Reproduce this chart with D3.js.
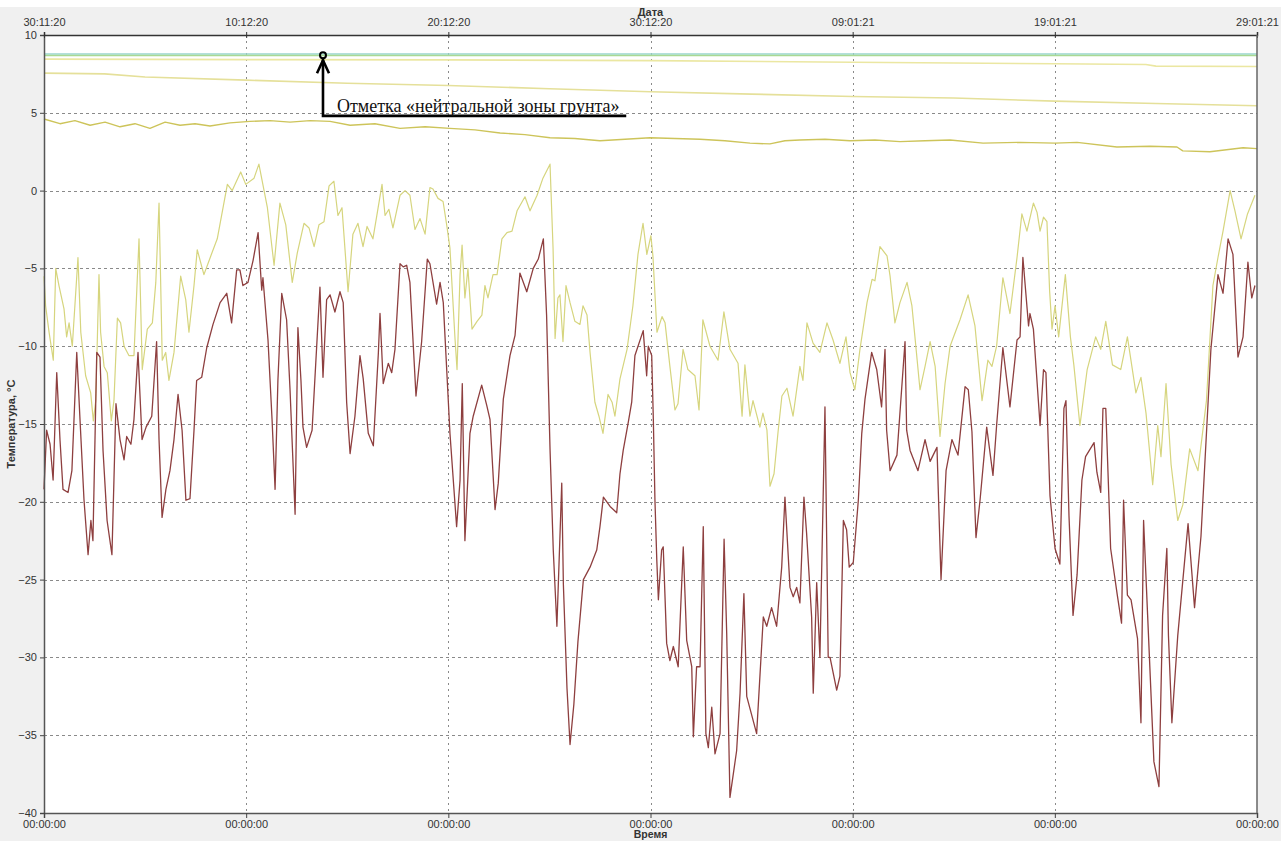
<!DOCTYPE html>
<html>
<head>
<meta charset="utf-8">
<script src="https://cdn.jsdelivr.net/npm/d3@7"></script>
<style>
  html, body { margin: 0; padding: 0; background: #ffffff; }
  svg { display: block; }
</style>
</head>
<body>
<div id="chart"></div>
<script>
// Day offsets are counted from 30.11.2020 00:00
const dateTickDays = [0, 10, 20, 30, 40, 50, 60];
const dateTickLabels = ["30:11:20", "10:12:20", "20:12:20", "30:12:20", "09:01:21", "19:01:21", "29:01:21"];
const timeTickLabels = ["00:00:00", "00:00:00", "00:00:00", "00:00:00", "00:00:00", "00:00:00", "00:00:00"];
const tempTicks = [10, 5, 0, -5, -10, -15, -20, -25, -30, -35, -40];

// Air temperature (dark red)
const airDays = [0.00,0.13,0.30,0.45,0.63,0.79,0.94,1.19,1.38,1.62,1.78,1.98,2.18,2.32,2.42,2.61,2.77,2.92,3.12,3.36,3.46,3.56,3.76,3.96,4.09,4.30,4.45,4.65,4.85,5.05,5.33,5.57,5.69,5.84,6.03,6.23,6.43,6.63,6.83,7.02,7.22,7.42,7.55,7.80,8.05,8.36,8.71,9.04,9.28,9.53,9.69,9.84,10.09,10.34,10.59,10.77,10.83,11.08,11.28,11.43,11.57,11.76,12.00,12.17,12.42,12.56,12.71,12.81,12.99,13.26,13.45,13.65,13.80,13.98,14.15,14.39,14.64,14.80,14.97,15.14,15.38,15.63,15.79,16.04,16.29,16.54,16.62,16.78,17.03,17.20,17.36,17.61,17.77,17.94,18.10,18.40,18.68,18.96,19.09,19.42,19.59,19.75,20.08,20.41,20.58,20.69,20.82,21.07,21.23,21.65,21.90,22.06,22.31,22.47,22.72,23.05,23.30,23.54,23.88,24.20,24.45,24.70,24.86,25.03,25.19,25.37,25.61,25.69,25.87,26.02,26.21,26.41,26.68,27.01,27.34,27.50,27.67,28.00,28.33,28.49,28.65,28.90,29.07,29.23,29.64,29.81,29.89,30.06,30.14,30.22,30.31,30.39,30.55,30.63,30.80,30.96,31.13,31.37,31.62,31.79,32.04,32.12,32.28,32.45,32.61,32.74,32.86,33.03,33.19,33.44,33.64,33.77,33.93,34.26,34.43,34.62,34.76,35.25,35.58,35.75,35.99,36.24,36.49,36.65,36.90,37.06,37.23,37.39,37.59,37.72,37.97,38.05,38.22,38.38,38.63,38.79,38.88,39.21,39.37,39.54,39.70,39.83,40.03,40.28,40.45,40.61,40.94,41.19,41.43,41.60,41.68,41.85,42.19,42.59,42.67,42.84,43.23,43.58,43.83,44.17,44.37,44.62,44.91,45.21,45.56,45.72,45.90,46.10,46.30,46.63,46.94,47.12,47.43,47.78,48.13,48.28,48.42,48.70,48.77,48.94,49.27,49.44,49.56,49.76,50.01,50.25,50.45,50.55,50.70,50.90,51.10,51.34,51.52,51.94,52.08,52.27,52.38,52.52,52.76,53.09,53.30,53.40,53.59,53.77,54.09,54.26,54.39,54.59,54.90,55.15,55.33,55.54,55.62,55.79,56.08,56.59,56.91,57.23,57.72,58.07,58.32,58.57,58.81,59.06,59.31,59.55,59.74,59.90];
const airTemp = [-19.2,-15.4,-16.3,-18.6,-11.7,-16.0,-19.2,-19.4,-18.0,-10.4,-14.7,-19.9,-23.4,-21.2,-22.5,-10.4,-10.7,-16.7,-21.2,-23.4,-18.6,-13.7,-16.0,-17.3,-15.8,-16.3,-14.7,-10.4,-16.0,-15.2,-14.5,-9.7,-16.0,-21.0,-19.2,-18.0,-16.0,-13.1,-15.4,-19.9,-19.8,-15.4,-12.2,-12.0,-10.1,-8.6,-7.2,-6.6,-8.5,-5.1,-5.1,-6.1,-5.9,-4.5,-2.7,-6.4,-5.6,-9.6,-14.7,-19.2,-12.2,-6.6,-8.3,-12.8,-20.8,-8.8,-12.2,-15.2,-16.5,-15.4,-10.9,-6.2,-12.0,-7.0,-6.7,-7.8,-6.5,-7.2,-13.6,-16.9,-14.5,-10.6,-12.1,-15.6,-16.4,-10.4,-7.9,-12.4,-11.1,-11.7,-10.2,-4.7,-4.9,-4.8,-5.9,-13.2,-9.7,-4.4,-4.7,-7.3,-5.9,-7.2,-15.6,-21.6,-18.6,-12.4,-22.5,-15.6,-14.5,-12.5,-13.8,-14.7,-20.5,-18.8,-13.4,-10.6,-9.3,-5.3,-6.5,-5.0,-4.4,-3.1,-8.0,-16.6,-23.1,-28.0,-18.8,-25.3,-32.0,-35.6,-33.0,-29.0,-25.0,-24.2,-23.1,-21.6,-19.7,-20.3,-20.7,-18.2,-16.7,-14.9,-13.6,-10.6,-9.0,-11.9,-10.0,-10.6,-14.7,-19.9,-23.7,-26.3,-23.1,-22.9,-29.1,-30.2,-29.3,-30.6,-22.9,-28.9,-30.6,-35.1,-30.6,-30.6,-21.6,-34.9,-35.8,-33.2,-36.2,-34.9,-22.4,-28.5,-39.0,-36.0,-32.3,-25.9,-32.5,-34.9,-27.4,-28.0,-26.8,-28.0,-24.2,-19.7,-25.5,-26.1,-25.5,-26.5,-19.7,-22.0,-27.4,-32.3,-25.2,-30.0,-13.9,-30.0,-30.0,-32.1,-31.2,-21.2,-21.8,-24.2,-23.9,-19.9,-15.6,-13.4,-10.4,-11.5,-13.9,-10.2,-15.4,-18.0,-17.0,-9.7,-15.4,-16.7,-18.0,-16.0,-17.4,-16.5,-25.0,-18.0,-16.0,-17.0,-12.6,-12.8,-15.5,-22.3,-19.9,-15.2,-18.3,-15.1,-10.1,-13.9,-9.6,-9.4,-4.3,-8.7,-7.9,-8.9,-15.1,-11.5,-11.7,-19.6,-23.0,-24.0,-14.0,-13.5,-20.9,-27.3,-24.7,-18.6,-17.1,-16.2,-18.1,-19.4,-14.0,-14.0,-23.0,-26.0,-27.8,-19.9,-26.0,-26.3,-28.8,-34.2,-21.2,-27.3,-36.7,-38.3,-27.3,-23.0,-28.6,-34.2,-28.6,-21.4,-26.8,-22.2,-10.2,-5.4,-6.6,-3.1,-4.1,-10.7,-9.4,-4.6,-6.9,-6.1];

// Snow / surface layer temperature (pale yellow)
const surfaceDays = [0.00,0.08,0.25,0.46,0.58,0.74,0.99,1.12,1.24,1.40,1.68,1.82,2.06,2.31,2.44,2.56,2.72,2.80,2.97,3.13,3.33,3.46,3.63,3.79,3.96,4.20,4.45,4.70,4.86,5.11,5.36,5.53,5.69,5.85,6.02,6.18,6.43,6.76,7.01,7.17,7.42,7.58,7.91,8.25,8.57,9.07,9.31,9.73,9.98,10.39,10.63,11.05,11.38,11.67,11.96,12.28,12.53,12.86,13.11,13.36,13.60,13.85,14.10,14.34,14.54,14.74,15.04,15.28,15.53,15.78,15.98,16.27,16.72,16.87,17.06,17.26,17.61,17.86,18.10,18.35,18.60,18.85,19.09,19.24,19.49,19.74,19.93,20.08,20.33,20.43,20.58,20.68,20.82,20.97,21.17,21.42,21.66,21.81,21.96,22.21,22.41,22.65,22.90,23.15,23.40,23.79,24.04,24.39,24.68,25.03,25.18,25.28,25.42,25.52,25.67,25.82,26.02,26.26,26.51,26.66,26.86,27.01,27.25,27.45,27.65,27.90,28.10,28.24,28.49,28.84,29.13,29.38,29.63,29.82,30.02,30.12,30.32,30.57,30.72,30.96,31.21,31.36,31.61,31.85,32.20,32.40,32.59,32.94,33.34,33.63,33.93,34.33,34.53,34.67,34.92,35.07,35.41,35.56,35.76,35.91,36.11,36.31,36.50,36.75,37.05,37.39,37.54,37.74,38.04,38.38,38.73,39.03,39.37,39.67,39.87,40.11,40.36,40.71,40.96,41.10,41.35,41.70,41.85,42.09,42.34,42.69,42.93,43.08,43.33,43.58,43.83,44.08,44.32,44.57,44.82,44.96,45.31,45.71,46.05,46.40,46.69,46.89,47.12,47.43,47.78,48.13,48.37,48.62,48.94,49.12,49.27,49.44,49.61,49.74,49.86,50.01,50.19,50.52,50.77,50.94,51.24,51.60,52.02,52.27,52.52,52.85,53.26,53.59,54.01,54.26,54.51,54.84,55.09,55.25,55.50,55.75,56.08,56.33,56.67,57.08,57.50,57.82,58.07,58.32,58.67,58.91,59.21,59.53,59.90];
const surfaceTemp = [-5.5,-7.4,-9.1,-10.9,-5.0,-6.1,-7.6,-9.4,-8.5,-10.0,-4.3,-9.1,-11.9,-13.0,-14.8,-13.5,-5.4,-9.1,-11.3,-11.7,-14.8,-13.5,-8.2,-8.5,-10.0,-10.6,-10.6,-3.1,-11.5,-8.9,-8.5,-5.9,-0.8,-10.9,-10.4,-12.2,-10.4,-5.5,-7.0,-9.1,-6.1,-3.8,-5.4,-4.2,-3.1,0.4,0.0,1.2,0.4,0.8,1.7,-1.1,-4.8,-0.8,-2.2,-5.9,-4.0,-2.1,-2.4,-3.6,-2.2,-2.0,0.3,0.6,-1.6,-1.1,-6.5,-2.8,-2.1,-3.6,-2.3,-3.1,0.4,-1.6,-1.2,-2.4,-0.3,0.0,-0.3,-2.5,-1.8,-2.8,0.2,0.1,-0.5,-0.7,-2.3,-3.7,-9.5,-11.5,-5.4,-3.5,-6.9,-5.0,-8.9,-8.4,-8.0,-6.1,-6.9,-5.4,-5.4,-3.1,-2.7,-2.6,-1.3,-0.4,-1.3,-0.3,0.8,1.7,-3.7,-9.5,-6.9,-6.7,-9.7,-6.1,-7.2,-8.4,-8.6,-7.4,-8.0,-10.4,-13.6,-14.5,-15.6,-13.1,-13.6,-14.5,-12.1,-10.2,-7.4,-4.1,-2.1,-4.1,-2.9,-4.2,-9.1,-8.1,-8.5,-11.3,-14.1,-13.7,-10.2,-11.5,-11.9,-14.1,-8.3,-10.0,-10.9,-7.8,-10.2,-11.1,-14.5,-11.2,-14.5,-13.5,-15.2,-14.3,-15.4,-19.0,-18.2,-15.5,-13.2,-12.7,-14.5,-11.3,-12.2,-8.5,-9.8,-10.4,-8.5,-9.6,-11.1,-9.4,-11.7,-12.8,-10.2,-7.2,-5.7,-5.8,-3.6,-4.2,-5.5,-8.5,-7.2,-5.9,-7.4,-9.4,-12.8,-11.3,-9.7,-11.3,-15.8,-12.4,-10.0,-9.5,-8.3,-6.7,-8.7,-13.5,-10.9,-11.3,-10.0,-5.6,-7.9,-4.3,-1.5,-2.6,-0.8,-1.4,-2.6,-1.7,-2.0,-6.4,-8.9,-7.4,-9.4,-5.4,-9.4,-11.2,-15.1,-11.5,-9.4,-10.2,-8.4,-11.2,-11.5,-9.4,-13.0,-12.0,-14.3,-18.9,-15.1,-17.1,-12.4,-17.6,-21.2,-20.2,-16.6,-18.0,-13.5,-6.1,-4.3,-2.6,0.0,-1.3,-3.1,-1.5,-0.3];

// Ground temperature at shallow depth (olive)
const shallowDays = [0,0.79,1.53,2.28,3.02,3.76,4.50,5.24,5.99,6.73,7.47,8.21,9.20,10.19,11.18,12.17,13.16,14.15,15.14,16.37,17.61,18.85,20.08,21.32,22.56,23.79,25.03,26.26,27.50,28.74,29.98,31.21,32.45,33.68,34.92,35.91,36.65,37.39,38.63,39.87,41.10,42.34,43.58,44.82,46.45,48.28,50.01,51.10,53.07,54.71,56.04,56.33,57.67,59.31,60.00];
const shallowTemp = [4.6,4.3,4.5,4.2,4.4,4.1,4.3,4.0,4.4,4.2,4.3,4.15,4.35,4.45,4.5,4.4,4.5,4.45,4.2,4.3,4.0,4.1,4.0,3.9,3.7,3.6,3.4,3.35,3.2,3.3,3.4,3.35,3.3,3.2,3.05,3.0,3.2,3.25,3.3,3.2,3.25,3.15,3.2,3.25,3.05,3.1,3.05,3.1,2.8,2.85,2.8,2.55,2.5,2.75,2.7];

// Ground temperature at medium depth (light yellow)
const mediumDays = [0, 3, 5, 10, 15, 20, 25, 30, 35, 40, 45, 50, 55, 60];
const mediumTemp = [7.55, 7.5, 7.3, 7.1, 6.9, 6.75, 6.55, 6.35, 6.2, 6.05, 5.95, 5.75, 5.6, 5.45];

// Ground temperature at deep level (pale yellow)
const deepDays = [0, 10, 20, 30, 40, 45, 50, 54.5, 55, 60];
const deepTemp = [8.45, 8.42, 8.4, 8.35, 8.25, 8.2, 8.15, 8.1, 8.0, 7.98];

// Neutral zone sensors (constant temperature)
const neutralDays = [0, 60];
const neutralTempA = [8.78, 8.78];
const neutralTempB = [8.68, 8.68];

const W = 1288, H = 841;
const margin = { top: 35, right: 31, bottom: 28, left: 44 };

const svg = d3.select("#chart").append("svg")
  .attr("width", W).attr("height", H);

svg.append("rect").attr("width", W).attr("height", H).attr("fill", "#f0f0f0");

const x = d3.scaleLinear().domain([0, 60]).range([margin.left, W - margin.right]);
const y = d3.scaleLinear().domain([-40, 10]).range([H - margin.bottom, margin.top]);

// plot area
svg.append("rect")
  .attr("x", x(0)).attr("y", y(10))
  .attr("width", x(60) - x(0)).attr("height", y(-40) - y(10))
  .attr("fill", "#ffffff");

// grid
const grid = svg.append("g").attr("stroke", "#8a8a8a").attr("stroke-width", 1)
  .attr("stroke-dasharray", "3,3").attr("shape-rendering", "crispEdges");
grid.selectAll("line.h").data(tempTicks.filter(t => t > -40 && t < 10)).join("line")
  .attr("class", "h")
  .attr("x1", x(0)).attr("x2", x(60))
  .attr("y1", d => Math.round(y(d)) + 0.5).attr("y2", d => Math.round(y(d)) + 0.5);
grid.selectAll("line.v").data(dateTickDays.filter(d => d > 0 && d < 60)).join("line")
  .attr("class", "v")
  .attr("x1", d => Math.round(x(d)) + 0.5).attr("x2", d => Math.round(x(d)) + 0.5)
  .attr("y1", y(10)).attr("y2", y(-40))
  .attr("stroke-dasharray", "2,4");

const line = d3.line().x(d => x(d[0])).y(d => y(d[1]));
const plotLines = svg.append("g").attr("fill", "none").attr("stroke-linejoin", "round");

function drawSeries(days, temps, color, width) {
  plotLines.append("path")
    .datum(d3.zip(days, temps))
    .attr("d", line)
    .attr("stroke", color)
    .attr("stroke-width", width);
}

drawSeries(neutralDays, neutralTempA, "#9ad6cf", 1.4);
drawSeries(neutralDays, neutralTempB, "#a9d993", 1.6);
drawSeries(deepDays, deepTemp, "#ebe7a2", 1.6);
drawSeries(mediumDays, mediumTemp, "#e5e09a", 1.6);
drawSeries(shallowDays, shallowTemp, "#cdc45a", 1.4);
drawSeries(surfaceDays, surfaceTemp, "#d6d57e", 1.2);
drawSeries(airDays, airTemp, "#8e3f3f", 1.3);

// axes
const fontSans = "'Liberation Sans', Arial, sans-serif";

const yAxis = d3.axisLeft(y).tickValues(tempTicks).tickSize(4).tickPadding(3).tickFormat(d3.format("d"));
const gY = svg.append("g").attr("transform", `translate(${x(0)},0)`).call(yAxis);
gY.select(".domain").attr("stroke", "#555").attr("stroke-width", 1.5);
gY.selectAll(".tick line").attr("stroke", "#444");
gY.selectAll(".tick text").attr("fill", "#333").style("font", `11px ${fontSans}`);

const xTop = d3.axisTop(x).tickValues(dateTickDays).tickSize(3)
  .tickFormat((d, i) => dateTickLabels[i]).tickPadding(6);
const gTop = svg.append("g").attr("transform", `translate(0,${y(10)})`).call(xTop);
gTop.select(".domain").attr("stroke", "#333").attr("stroke-width", 1.5);
gTop.selectAll(".tick line").attr("stroke", "#333").attr("y2", 3).attr("y1", -3);
gTop.selectAll(".tick text").attr("fill", "#333").style("font", `11px ${fontSans}`);

const xBottom = d3.axisBottom(x).tickValues(dateTickDays).tickSize(5)
  .tickFormat((d, i) => timeTickLabels[i]).tickPadding(2);
const gBottom = svg.append("g").attr("transform", `translate(0,${y(-40)})`).call(xBottom);
gBottom.select(".domain").attr("stroke", "#555").attr("stroke-width", 1.5);
gBottom.selectAll(".tick line").attr("stroke", "#444");
gBottom.selectAll(".tick text").attr("fill", "#333").style("font", `11px ${fontSans}`);

// right border
svg.append("line")
  .attr("x1", x(60)).attr("x2", x(60)).attr("y1", y(10)).attr("y2", y(-40))
  .attr("stroke", "#666").attr("stroke-width", 1.5);

// axis titles
svg.append("text")
  .attr("x", (x(0) + x(60)) / 2).attr("y", 16)
  .attr("text-anchor", "middle").attr("fill", "#333")
  .style("font", `bold 11px ${fontSans}`).text("Дата");
svg.append("text")
  .attr("x", (x(0) + x(60)) / 2).attr("y", 838.3)
  .attr("text-anchor", "middle").attr("fill", "#333")
  .style("font", `bold 10.5px ${fontSans}`).text("Время");
svg.append("text")
  .attr("transform", `translate(15,${(y(10) + y(-40)) / 2}) rotate(-90)`)
  .attr("text-anchor", "middle").attr("fill", "#333")
  .style("font", `bold 11px ${fontSans}`).text("Температура, °С");

// white margins around the picture
svg.append("rect").attr("x", 0).attr("y", 0).attr("width", W).attr("height", 7).attr("fill", "#ffffff");
svg.append("rect").attr("x", 1281).attr("y", 0).attr("width", 7).attr("height", H).attr("fill", "#ffffff");

// neutral zone marker
const markDay = 13.8;
const mx = x(markDay);
const ann = svg.append("g").attr("stroke", "#000").attr("fill", "none").attr("stroke-width", 2.6);
ann.append("circle").attr("cx", mx).attr("cy", y(8.7)).attr("r", 3).attr("stroke-width", 2);
ann.append("path").attr("d", `M${mx},${y(8.7) + 4} V${y(4.8)} H${x(28.8)}`);
ann.append("path").attr("d", `M${mx - 6},${y(8.7) + 18} L${mx},${y(8.7) + 5} L${mx + 6},${y(8.7) + 18}`);
svg.append("text")
  .attr("x", mx + 14).attr("y", y(4.8) - 4)
  .attr("fill", "#111")
  .style("font", "18px 'Liberation Serif', 'Times New Roman', serif")
  .text("Отметка «нейтральной зоны грунта»");
</script>
</body>
</html>
